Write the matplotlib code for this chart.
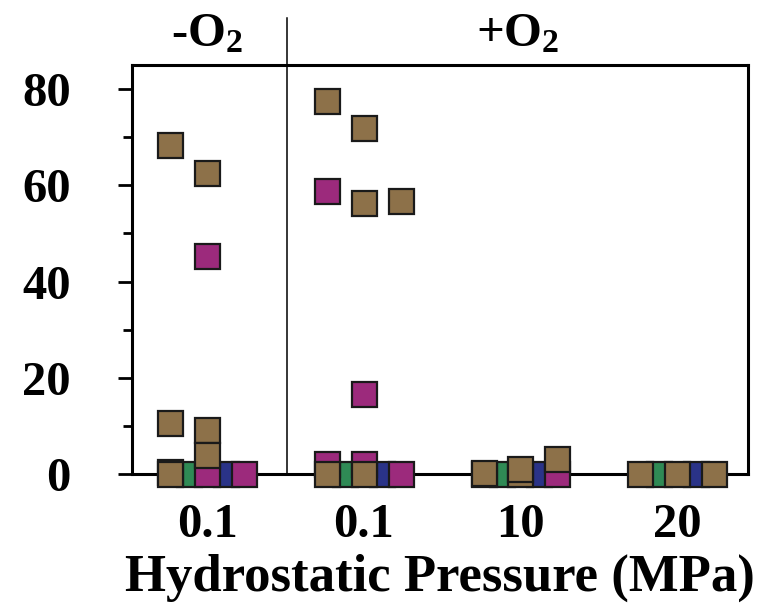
import numpy as np
import matplotlib
matplotlib.use('Agg')
import matplotlib.pyplot as plt
from matplotlib.ticker import MultipleLocator

plt.rcParams['font.family'] = ['Liberation Serif', 'DejaVu Serif']
plt.rcParams['font.weight'] = 'bold'
plt.rcParams['mathtext.fontset'] = 'custom'
plt.rcParams['mathtext.rm'] = 'Liberation Serif:bold'
plt.rcParams['mathtext.default'] = 'rm'

# pressure groups and O2 condition
pressure_labels = ['0.1', '0.1', '10', '20']
condition_labels = ['-O$_2$', '+O$_2$']

# 5 marker slots per pressure group
slot_offsets = [-0.235, -0.118, 0.0, 0.118, 0.235]

# (group, slot, value)
green_pts = [(0, 1, 0), (1, 1, 0), (2, 1, 0), (3, 1, 0)]
blue_pts = [(0, 3, 0), (1, 3, 0), (2, 3, 0), (3, 3, 0)]
magenta_pts = [(0, 0, 0.5), (0, 2, 45.3), (0, 2, 0), (0, 4, 0),
               (1, 0, 58.8), (1, 0, 2), (1, 2, 16.6), (1, 2, 2), (1, 4, 0),
               (2, 4, 0)]
brown_pts = [(0, 0, 68.4), (0, 0, 10.6), (0, 0, 0),
             (0, 2, 62.5), (0, 2, 9.2), (0, 2, 3.9),
             (1, 0, 77.5), (1, 0, 0),
             (1, 2, 71.9), (1, 2, 56.3), (1, 2, 0),
             (1, 4, 56.7),
             (2, 0, 0), (2, 0, 0.3), (2, 2, 0), (2, 2, 1.0), (2, 4, 3.2),
             (3, 0, 0), (3, 2, 0), (3, 4, 0)]

colors = {'green': '#2f8a55', 'blue': '#2a3388', 'magenta': '#9c2a7c', 'brown': '#8d7149'}

fig = plt.figure(figsize=(7.6, 6.04), dpi=100)
ax = fig.add_axes([132 / 760, 130 / 604, 616 / 760, 409 / 604])


def draw(pts, color, z):
    xs = [g + slot_offsets[s] for g, s, v in pts]
    ys = [v for g, s, v in pts]
    ax.plot(xs, ys, 's', ms=18, mfc=color, mec='#1a1a1a', mew=1.6,
            ls='none', clip_on=False, zorder=z)


draw(green_pts, colors['green'], 3)
draw(blue_pts, colors['blue'], 3)
draw(magenta_pts, colors['magenta'], 4)
draw(brown_pts, colors['brown'], 5)

ax.set_xlim(-0.479, 3.452)
ax.set_ylim(0, 85)

for sp in ax.spines.values():
    sp.set_linewidth(2.2)
    sp.set_zorder(2)

ax.yaxis.set_major_locator(MultipleLocator(20))
ax.yaxis.set_minor_locator(MultipleLocator(10))
ax.tick_params(axis='y', which='major', length=10, width=2, pad=34, labelsize=35)
ax.tick_params(axis='y', which='minor', length=6.5, width=2)
ax.set_xticks(range(len(pressure_labels)))
ax.set_xticklabels(pressure_labels)
ax.tick_params(axis='x', length=0, pad=21, labelsize=35)
ax.set_xlabel('Hydrostatic Pressure (MPa)', fontsize=38, fontweight='bold', labelpad=5)

# divider between -O2 and +O2
ax.axvline(0.51, ymin=0, ymax=1.115, color='black', lw=1.1, clip_on=False, zorder=2)
ax.text(0.0, 1.075, condition_labels[0], transform=ax.get_xaxis_transform(),
        ha='center', va='center', fontsize=35)
ax.text((0.51 + 3.452) / 2, 1.075, condition_labels[1], transform=ax.get_xaxis_transform(),
        ha='center', va='center', fontsize=35)

fig.savefig('out.png', dpi=100)
